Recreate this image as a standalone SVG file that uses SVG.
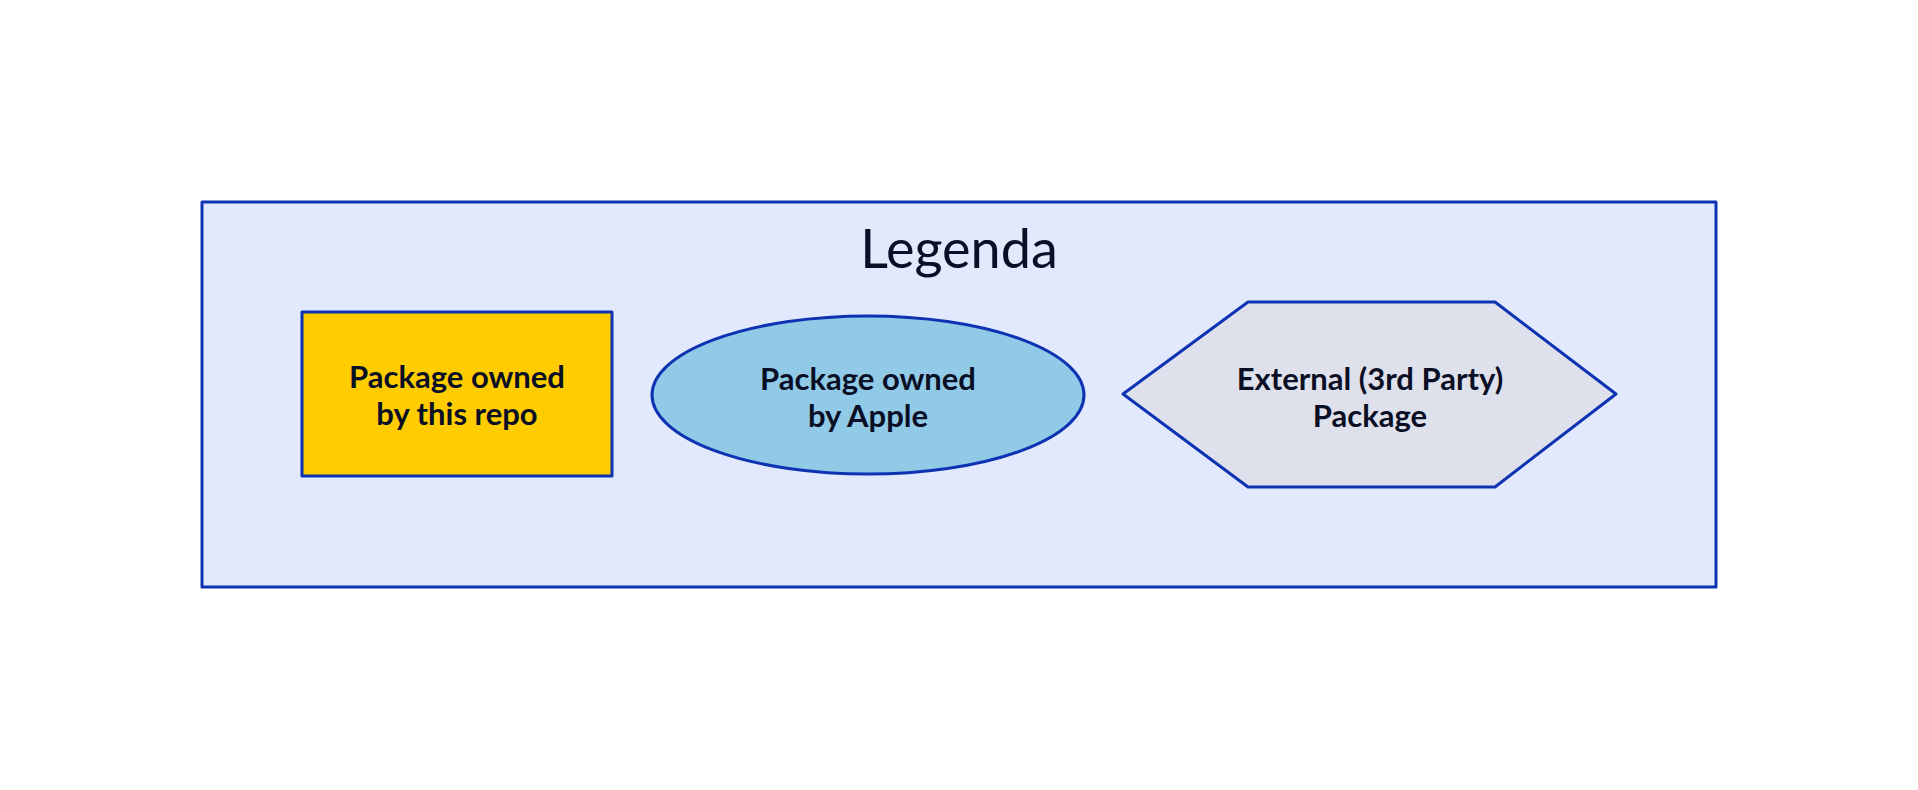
<svg xmlns="http://www.w3.org/2000/svg" width="1918" height="790" viewBox="0 0 1918 790">
<style>
.shape{stroke:#0D32B2;stroke-width:3;stroke-linejoin:round}
.lbl{font-family:Lato,"Open Sans","Liberation Sans",sans-serif;font-weight:bold;font-size:31px;fill:#0A0F25;text-anchor:middle}
.title{font-family:Lato,"Open Sans","Liberation Sans",sans-serif;font-size:54px;fill:#0A0F25;text-anchor:middle}
</style>
<rect x="0" y="0" width="1918" height="790" fill="#FFFFFF"/>
<g id="legenda">
<rect class="shape" x="202" y="202" width="1514" height="385" fill="#E3E9FD"/>
<text class="title" x="959" y="268">Legenda</text>
</g>
<g id="own">
<rect class="shape" x="302" y="312" width="310" height="164" fill="#FFCC00"/>
<text class="lbl" x="457" y="388">Package owned</text>
<text class="lbl" x="457" y="425">by this repo</text>
</g>
<g id="apple">
<ellipse class="shape" cx="868" cy="395" rx="216" ry="79" fill="#90CAE7"/>
<text class="lbl" x="868" y="390">Package owned</text>
<text class="lbl" x="868" y="427">by Apple</text>
</g>
<g id="external">
<polygon class="shape" points="1123,394 1248,302 1495,302 1616,394 1495,487 1248,487" fill="#DEE1EB"/>
<text class="lbl" x="1370" y="390">External (3rd Party)</text>
<text class="lbl" x="1370" y="427">Package</text>
</g>
<g id="connectors"></g>
</svg>
